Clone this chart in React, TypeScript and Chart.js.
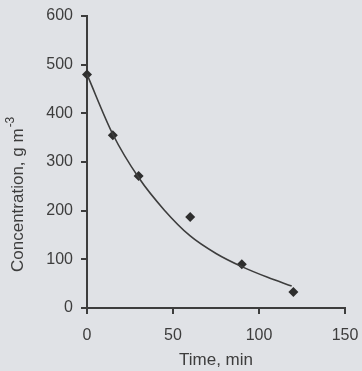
import React, { useEffect, useRef } from "react";
import { Chart, registerables } from "chart.js";

Chart.register(...registerables);

// Measured data (diamonds)
const timeMin = [0, 15, 30, 60, 90, 120];
const concentration = [480, 355, 271, 187, 90, 33];

// Fitted curve
const curveTime = [0, 15, 30, 45, 60, 75, 90, 105, 119];
const curveConc = [480, 357, 268, 201, 148, 112, 85, 63, 45];

const xTicks = [0, 50, 100, 150];
const yTicks = [0, 100, 200, 300, 400, 500, 600];

const xTitle = "Time, min";
const yTitleMain = "Concentration, g m";
const yTitleSup = "-3";

const BG = "#e0e2e6";
const INK = "#3d3d3d";
const FONT = "'Liberation Sans', Arial, Helvetica, sans-serif";

export default function App() {
  const ref = useRef<HTMLCanvasElement | null>(null);

  useEffect(() => {
    document.body.style.margin = "0";
    document.body.style.background = BG;
    const canvas = ref.current;
    if (!canvas) return;

    const yTitlePlugin = {
      id: "yTitle",
      beforeDraw(chart: any) {
        const c = chart.ctx;
        c.save();
        c.fillStyle = BG;
        c.fillRect(0, 0, chart.width, chart.height);
        c.restore();
      },
      afterDraw(chart: any) {
        const c = chart.ctx;
        c.save();
        c.translate(18, 272);
        c.rotate(-Math.PI / 2);
        c.fillStyle = INK;
        c.textAlign = "left";
        c.textBaseline = "middle";
        c.font = `17px ${FONT}`;
        c.fillText(yTitleMain, 0, 0);
        const w = c.measureText(yTitleMain).width;
        c.font = `12px ${FONT}`;
        c.fillText(yTitleSup, w + 1, -7);
        c.restore();
      },
    };

    const chart = new Chart(canvas, {
      type: "scatter",
      data: {
        datasets: [
          {
            type: "line",
            label: "fit",
            data: curveTime.map((t, i) => ({ x: t, y: curveConc[i] })),
            borderColor: INK,
            borderWidth: 1.6,
            pointRadius: 0,
            cubicInterpolationMode: "monotone",
            fill: false,
            clip: false,
          },
          {
            type: "scatter",
            label: "data",
            data: timeMin.map((t, i) => ({ x: t, y: concentration[i] })),
            pointStyle: "rectRot",
            pointRadius: 5,
            backgroundColor: "#2e2e2e",
            borderColor: "#2e2e2e",
            borderWidth: 0,
            clip: false,
          },
        ],
      },
      options: {
        responsive: false,
        animation: false,
        layout: { padding: { top: 16, right: 17, left: 0, bottom: 0 } },
        plugins: {
          legend: { display: false },
          tooltip: { enabled: false },
        },
        scales: {
          x: {
            type: "linear",
            min: 0,
            max: 150,
            afterBuildTicks: (s: any) => {
              s.ticks = xTicks.map((v) => ({ value: v }));
            },
            afterFit: (s: any) => {
              s.height = 63;
              s.paddingLeft = 0;
              s.paddingRight = 0;
            },
            ticks: {
              color: INK,
              font: { size: 16, family: FONT },
              padding: 12,
              maxRotation: 0,
            },
            grid: {
              display: true,
              drawOnChartArea: false,
              drawTicks: true,
              tickLength: 6,
              color: INK,
              lineWidth: 2,
            },
            border: { display: true, color: INK, width: 2 },
            title: {
              display: true,
              text: xTitle,
              color: INK,
              font: { size: 17, family: FONT },
              padding: 0,
            },
          },
          y: {
            type: "linear",
            min: 0,
            max: 600,
            afterBuildTicks: (s: any) => {
              s.ticks = yTicks.map((v) => ({ value: v }));
            },
            afterFit: (s: any) => {
              s.width = 87;
              s.paddingTop = 0;
              s.paddingBottom = 0;
            },
            ticks: {
              color: INK,
              font: { size: 16, family: FONT },
              padding: 8,
            },
            grid: {
              display: true,
              drawOnChartArea: false,
              drawTicks: true,
              tickLength: 6,
              color: INK,
              lineWidth: 2,
            },
            border: { display: true, color: INK, width: 2 },
          },
        },
      },
      plugins: [yTitlePlugin],
    } as any);

    return () => chart.destroy();
  }, []);

  return (
    <div style={{ width: 362, height: 371 }}>
      <canvas ref={ref} width={362} height={371} />
    </div>
  );
}
